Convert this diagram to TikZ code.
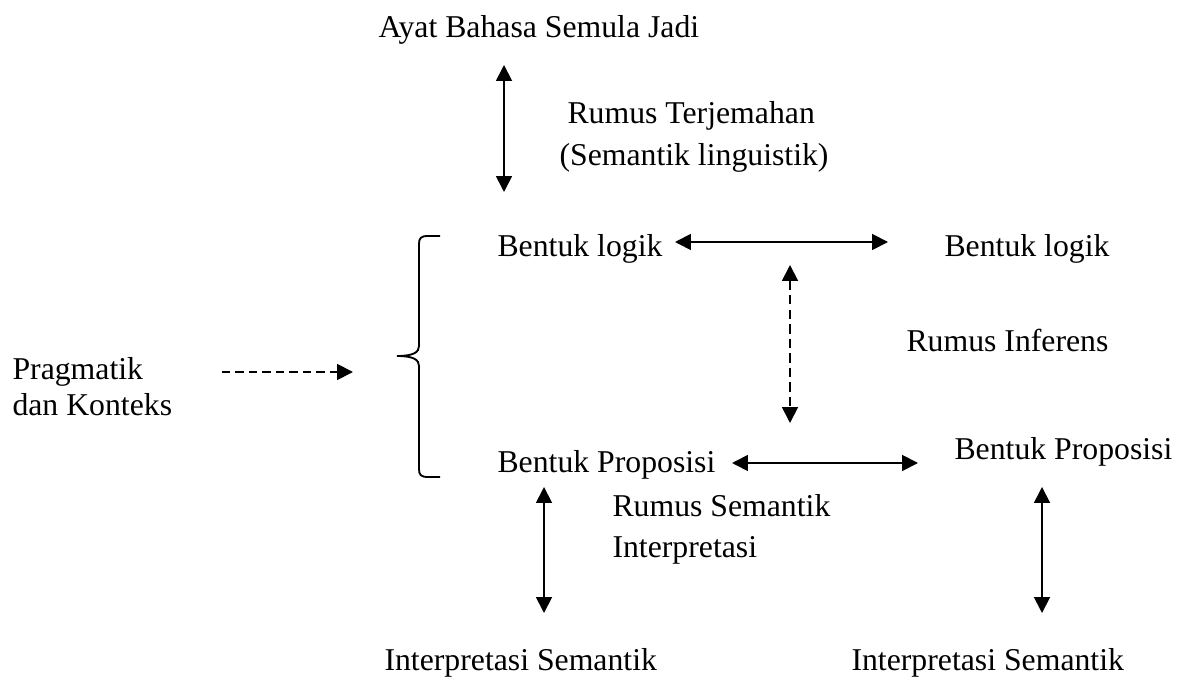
\documentclass[tikz,border=0pt]{standalone}
\usepackage{fontspec}
\setmainfont{Liberation Serif}
\usetikzlibrary{arrows.meta}
\tikzset{
  lbl/.style={anchor=base west, inner sep=0pt, font=\fontsize{12}{14}\selectfont},
  dblarrow/.style={line width=0.7pt, {Triangle[length=6pt,width=6pt]}-{Triangle[length=6pt,width=6pt]}},
  dasharrow/.style={line width=0.7pt, dash pattern=on 3.2pt off 1.9pt, -{Triangle[length=6pt,width=6pt]}},
  dashdbl/.style={line width=0.7pt, dash pattern=on 3.6pt off 1.9pt, {Triangle[length=6pt,width=6pt]}-{Triangle[length=6pt,width=6pt]}},
  bracestyle/.style={line width=0.7pt}
}
\begin{document}
\begin{tikzpicture}[x=0.378pt,y=-0.378pt]
\useasboundingbox (0,0) rectangle (1179,680);

% texts
\node[lbl] (ayat) at (378,38) {Ayat Bahasa Semula Jadi};
\node[lbl] (rt1) at (567,124) {Rumus Terjemahan};
\node[lbl] (rt2) at (559,166) {(Semantik linguistik)};
\node[lbl] (blL) at (497,257) {Bentuk logik};
\node[lbl] (blR) at (944,257) {Bentuk logik};
\node[lbl] (prag1) at (12,380) {Pragmatik};
\node[lbl] (prag2) at (12,416) {dan Konteks};
\node[lbl] (rinf) at (906,352) {Rumus Inferens};
\node[lbl] (bpL) at (497,472) {Bentuk Proposisi};
\node[lbl] (bpR) at (954,460) {Bentuk Proposisi};
\node[lbl] (rs1) at (612,517) {Rumus Semantik};
\node[lbl] (rs2) at (612,557) {Interpretasi};
\node[lbl] (isL) at (384,670) {Interpretasi Semantik};
\node[lbl] (isR) at (851,670) {Interpretasi Semantik};

% arrow end points
\coordinate (a1t) at (504,65);
\coordinate (a1b) at (504,192);
\coordinate (h1l) at (675,242);
\coordinate (h1r) at (888,242);
\coordinate (dvt) at (790,265);
\coordinate (dvb) at (790,423);
\coordinate (h2l) at (732,463);
\coordinate (h2r) at (918,463);
\coordinate (v2t) at (544,487);
\coordinate (v2b) at (544,613);
\coordinate (v3t) at (1042,487);
\coordinate (v3b) at (1042,613);
\coordinate (dhl) at (222,372);
\coordinate (dhr) at (353,372);

\draw[dblarrow] (a1t) -- (a1b);
\draw[dblarrow] (h1l) -- (h1r);
\draw[dashdbl] (dvt) -- (dvb);
\draw[dblarrow] (h2l) -- (h2r);
\draw[dblarrow] (v2t) -- (v2b);
\draw[dblarrow] (v3t) -- (v3b);
\draw[dasharrow] (dhl) -- (dhr);

% brace
\draw[bracestyle] (440,236) -- (428,236)
  .. controls (421,236) and (419,238) .. (419,244)
  -- (419,346)
  .. controls (419,352) and (414,356) .. (397,356)
  .. controls (414,356) and (419,360) .. (419,366)
  -- (419,469)
  .. controls (419,475) and (421,477) .. (428,477)
  -- (440,477);
\end{tikzpicture}
\end{document}
